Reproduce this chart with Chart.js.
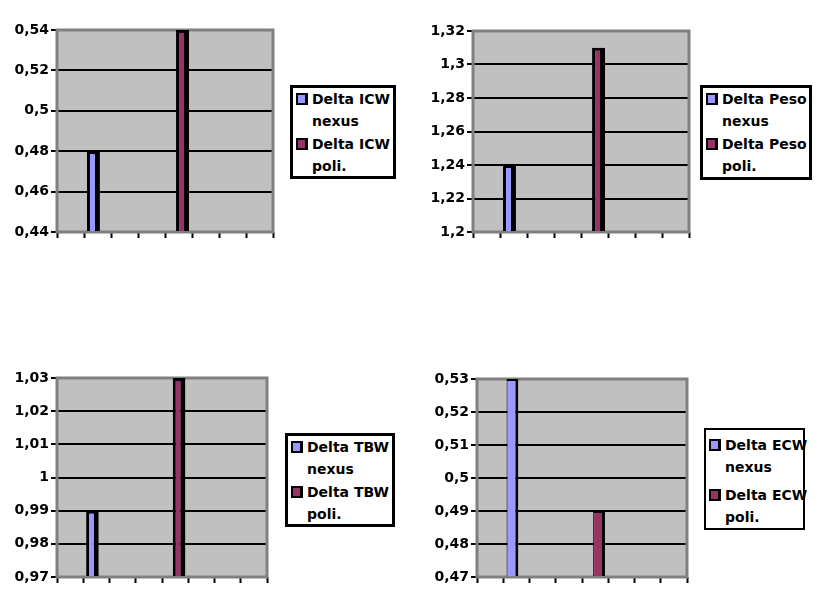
<!DOCTYPE html>
<html>
<head>
<meta charset="utf-8">
<script src="https://cdn.jsdelivr.net/npm/chart.js@4"></script>
<style>
  body{margin:0;background:#fff;width:826px;height:604px;position:relative;overflow:hidden;
    font-family:"DejaVu Sans",sans-serif;font-weight:bold;}
  canvas{position:absolute;}
  .legend{position:absolute;box-sizing:border-box;border:3px solid #000;background:#fff;
    padding:0 0 0 3px;font-size:14px;line-height:22px;white-space:nowrap;}
  .item{display:flex;align-items:flex-start;}
  .mark{width:12px;height:12px;box-sizing:border-box;border:2px solid #000;border-right-width:3px;
    margin:5px 4px 0 0;flex:none;}
</style>
</head>
<body>
<canvas id="c1" width="277" height="228"></canvas>
<canvas id="c2" width="277" height="227"></canvas>
<canvas id="c3" width="271" height="225"></canvas>
<canvas id="c4" width="271" height="224"></canvas>

<script>
// DATA
const categories=["","","","","","","",""];

const icwNexus=[null,0.48,null,null,null,null,null,null];
const icwPoli=[null,null,null,null,0.54,null,null,null];
const icwTicks=[0.44,0.46,0.48,0.5,0.52,0.54];
const icwNames=["Delta ICW nexus","Delta ICW poli."];

const pesoNexus=[null,1.24,null,null,null,null,null,null];
const pesoPoli=[null,null,null,null,1.31,null,null,null];
const pesoTicks=[1.2,1.22,1.24,1.26,1.28,1.3,1.32];
const pesoNames=["Delta Peso nexus","Delta Peso poli."];

const tbwNexus=[null,0.99,null,null,null,null,null,null];
const tbwPoli=[null,null,null,null,1.03,null,null,null];
const tbwTicks=[0.97,0.98,0.99,1,1.01,1.02,1.03];
const tbwNames=["Delta TBW nexus","Delta TBW poli."];

const ecwNexus=[null,0.53,null,null,null,null,null,null];
const ecwPoli=[null,null,null,null,0.49,null,null,null];
const ecwTicks=[0.47,0.48,0.49,0.5,0.51,0.52,0.53];
const ecwNames=["Delta ECW nexus","Delta ECW poli."];

const nexusColor="#9999ff";
const poliColor="#993366";

// plot background + gray frame
const frame={
  id:"frame",
  beforeDraw(c){
    let a=c.chartArea,ctx=c.ctx;
    ctx.save();ctx.fillStyle="#c0c0c0";
    ctx.fillRect(a.left,a.top,a.right-a.left,a.bottom-a.top);ctx.restore();
  },
  beforeDatasetsDraw(c){
    let a=c.chartArea,ctx=c.ctx;
    ctx.save();ctx.strokeStyle="#808080";ctx.lineWidth=3;
    ctx.strokeRect(a.left,a.top,a.right-a.left,a.bottom-a.top);ctx.restore();
  }
};

function fmt(v){return String(Number(v.toFixed(3))).replace(".",",");}

// CHART
function makeChart(id,pos,nexus,poli,ticks,names,thin,leg){
  let cv=document.getElementById(id);
  cv.style.left=pos.x+"px";cv.style.top=pos.y+"px";
  let bw=thin?{left:1,right:3,top:2,bottom:0}:{left:3,right:5,top:3,bottom:0};
  let bp=thin?1.5:1.6;
  let ds=(label,data,color)=>({
    label,data,backgroundColor:color,borderColor:"#000",borderWidth:bw,
    base:ticks[0],categoryPercentage:0.6,barPercentage:bp
  });
  let chart=new Chart(cv,{
    type:"bar",
    data:{labels:categories,datasets:[ds(names[0],nexus,nexusColor),ds(names[1],poli,poliColor)]},
    plugins:[frame],
    options:{
      responsive:false,animation:false,
      layout:{padding:{left:0,top:12,right:4,bottom:4}},
      plugins:{legend:{display:false},tooltip:{enabled:false}},
      scales:{
        x:{
          grid:{drawOnChartArea:false,drawTicks:true,tickLength:6,tickColor:"#000",tickWidth:2,offset:true},
          border:{display:false},
          ticks:{display:false},
          afterFit(s){s.height=10;}
        },
        y:{
          min:ticks[0],max:ticks[ticks.length-1],
          afterBuildTicks(s){s.ticks=ticks.map(v=>({value:v}));},
          grid:{color:"#000",lineWidth:2,tickLength:6,tickColor:"#000",tickWidth:2},
          border:{display:false},
          ticks:{color:"#000",padding:2,font:{family:"DejaVu Sans",size:14,weight:"bold"},callback:v=>fmt(v)},
          afterFit(s){s.width=57;}
        }
      }
    }
  });

  // LEGEND (html, built from the chart's datasets)
  let box=document.createElement("div");
  box.className="legend";
  box.style.left=leg.x+"px";box.style.top=leg.y+"px";
  box.style.width=leg.w+"px";box.style.height=leg.h+"px";
  if(leg.b) box.style.borderWidth=leg.b+"px";
  if(leg.pt) box.style.paddingTop=leg.pt+"px";
  chart.data.datasets.forEach((d,i)=>{
    let k=d.label.lastIndexOf(" ");
    let item=document.createElement("div");
    item.className="item";
    if(i>0&&leg.gap) item.style.marginTop=leg.gap+"px";
    item.innerHTML=`<span class="mark" style="background:${d.backgroundColor}"></span>
      <span>${d.label.slice(0,k)}<br>${d.label.slice(k+1)}</span>`;
    box.appendChild(item);
  });
  document.body.appendChild(box);
  return chart;
}

makeChart("c1",{x:0,y:18},icwNexus,icwPoli,icwTicks,icwNames,false,{x:290,y:85,w:106,h:94,gap:1});
makeChart("c2",{x:416,y:19},pesoNexus,pesoPoli,pesoTicks,pesoNames,false,{x:700,y:85,w:112,h:95,gap:1});
makeChart("c3",{x:0,y:366},tbwNexus,tbwPoli,tbwTicks,tbwNames,false,{x:285,y:433,w:110,h:94,gap:1});
makeChart("c4",{x:420,y:367},ecwNexus,ecwPoli,ecwTicks,ecwNames,true,{x:704,y:428,w:101,h:102,b:2,pt:4,gap:6});
</script>
</body>
</html>
